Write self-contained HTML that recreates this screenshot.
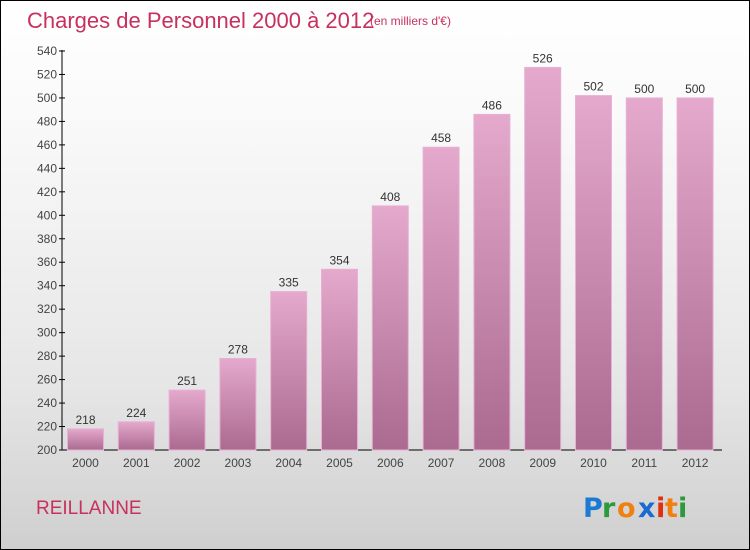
<!DOCTYPE html>
<html><head><meta charset="utf-8"><style>
body{margin:0}
#c{position:relative;width:748px;height:548px;border:1px solid #000;background:linear-gradient(#fff,#fafafa 20%,#e6e6e6 70%,#cfcfcf);overflow:hidden;font-family:"Liberation Sans",sans-serif}
</style></head><body>
<div id="c">
<svg width="748" height="548" style="position:absolute;left:0;top:0" id="svg">
<defs><linearGradient id="bg" x1="0" y1="0" x2="0" y2="1"><stop offset="0" stop-color="#e4a9cc"/><stop offset="1" stop-color="#ab6a90"/></linearGradient></defs>
<text x="26" y="27" font-size="22" fill="#c8305e">Charges de Personnel 2000 à 2012</text>
<text x="369" y="24" font-size="12" fill="#c8305e">(en milliers d'€)</text>
<text x="35" y="513" font-size="19" fill="#c8305e">REILLANNE</text>
<g font-size="27" font-weight="bold" font-family="'DejaVu Sans',sans-serif">
<text x="582" y="516" fill="#1a7ad4">P</text><text x="601" y="516" fill="#2a9a3a">r</text><text x="616" y="516" fill="#f08010">o</text><text x="637" y="516" fill="#1a6ad4">x</text><text x="655" y="516" fill="#e03010">i</text><text x="664" y="516" fill="#f08010">t</text><text x="677" y="516" fill="#2a9a3a">i</text></g>
<g id="g"></g>
</svg>
</div>
<script>
const years=["2000","2001","2002","2003","2004","2005","2006","2007","2008","2009","2010","2011","2012"];
const values=[218,224,251,278,335,354,408,458,486,526,502,500,500];
const yTicks=[200,220,240,260,280,300,320,340,360,380,400,420,440,460,480,500,520,540];
const ns="http://www.w3.org/2000/svg",g=document.getElementById('g');
const y=v=>449-(v-200)*(399/340);
const x=i=>84.5+i*50.8;
function mk(t,a,txt){const e=document.createElementNS(ns,t);for(const k in a)e.setAttribute(k,a[k]);if(txt!=null)e.textContent=txt;g.appendChild(e);return e;}
let ax=mk('line',{x1:61,y1:49,x2:61,y2:449,stroke:'#000'});


let xa=mk('line',{x1:61,y1:449,x2:721,y2:449,stroke:'#000'});


yTicks.forEach(v=>{
 const t=mk('line',{x1:58,x2:64,y1:y(v),y2:y(v),stroke:'#000'});
 
 
 const l=mk('text',{x:56,y:y(v)+4,'font-size':12,'text-anchor':'end',fill:'#444'},v);
 
 
});
values.forEach((v,i)=>{
 const r=mk('rect',{x:x(i)-18,y:y(v),width:36,height:449-y(v),fill:'url(#bg)',stroke:'#e8b0d4','stroke-width':1});
 
 
 const t=mk('text',{x:x(i),y:y(v)-5,'font-size':12,'text-anchor':'middle',fill:'#333'},v);
 
 
 const xl=mk('text',{x:x(i),y:466,'font-size':12,'text-anchor':'middle',fill:'#444'},years[i]);
 
 
});
</script>
</body></html>
